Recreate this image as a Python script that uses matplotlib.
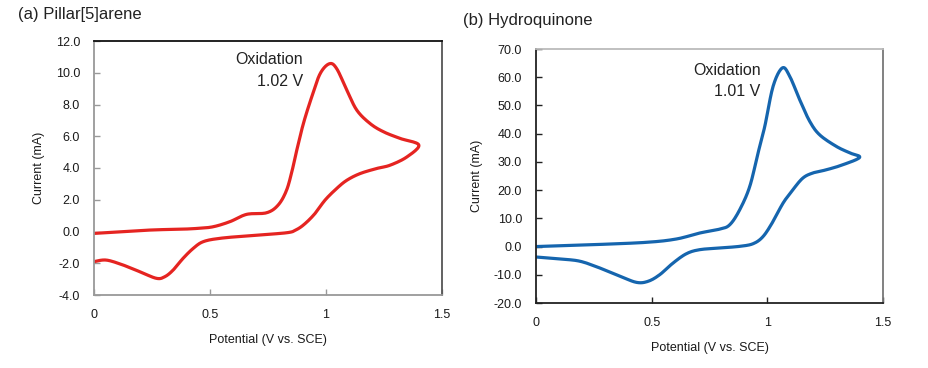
import matplotlib
matplotlib.use("Agg")
import matplotlib.pyplot as plt
import numpy as np

plt.rcParams['font.family'] = ['Liberation Sans', 'DejaVu Sans']

# (a) Pillar[5]arene CV: potential (V vs SCE), current (mA)
pa_potential = [0.0, 0.24, 0.371, 0.45, 0.514, 0.586, 0.658, 0.744, 0.794, 0.83, 0.855, 0.874,
                0.9025, 0.9385, 0.975, 1.015, 1.046, 1.09, 1.133, 1.19, 1.248, 1.32, 1.40,
                1.349, 1.277, 1.219, 1.147, 1.09, 1.046, 0.996, 0.953, 0.91, 0.873, 0.83,
                0.672, 0.543, 0.471, 0.428, 0.384, 0.341, 0.305, 0.269, 0.197, 0.125, 0.053, 0.0]
pa_current = [-0.12, 0.09, 0.14, 0.2, 0.30, 0.62, 1.08, 1.18, 1.67, 2.6, 3.9, 5.12,
              6.8, 8.48, 9.95, 10.57, 10.26, 8.9, 7.64, 6.8, 6.28, 5.86, 5.45,
              4.70, 4.18, 3.97, 3.65, 3.23, 2.71, 1.98, 1.14, 0.5, 0.12, -0.08,
              -0.26, -0.43, -0.64, -1.06, -1.69, -2.43, -2.85, -2.95, -2.53, -2.11, -1.80, -1.90]

# (b) Hydroquinone CV
hq_potential = [0.0, 0.248, 0.478, 0.607, 0.708, 0.795, 0.838, 0.881, 0.924, 0.96, 0.989, 1.025,
                1.065, 1.097, 1.14, 1.183, 1.226, 1.298, 1.356, 1.399,
                1.327, 1.255, 1.198, 1.154, 1.111, 1.068, 1.025, 0.982, 0.939, 0.881, 0.795,
                0.708, 0.651, 0.593, 0.535, 0.485, 0.435, 0.363, 0.276, 0.19, 0.104, 0.0]
hq_current = [0.0, 0.67, 1.5, 2.68, 4.8, 6.2, 7.76, 13.1, 21.3, 33.2, 42.6, 56.8,
              63.3, 60.3, 52.0, 44.4, 39.6, 35.5, 33.2, 31.6,
              29.0, 27.2, 26.1, 24.3, 20.2, 15.4, 8.94, 3.6, 1.03, 0.08, -0.51,
              -1.1, -2.5, -5.8, -9.96, -12.3, -12.7, -10.5, -7.6, -5.2, -4.4, -3.7]

pa_yticks = [-4.0, -2.0, 0.0, 2.0, 4.0, 6.0, 8.0, 10.0, 12.0]
hq_yticks = [-20.0, -10.0, 0.0, 10.0, 20.0, 30.0, 40.0, 50.0, 60.0, 70.0]
xticks = [0, 0.5, 1, 1.5]
xticklabels = ['0', '0.5', '1', '1.5']

fig = plt.figure(figsize=(9.29, 3.68), dpi=100)
ax1 = fig.add_axes([94/929, 1-295/368, 348/929, 254/368])
ax2 = fig.add_axes([536/929, 1-303/368, 347/929, 254/368])


def smooth(x, y, n=12):
    x = np.asarray(x); y = np.asarray(y)
    pts = np.column_stack([x, y])
    # Catmull-Rom spline through points
    P = np.vstack([pts[0], pts, pts[-1]])
    out = []
    for i in range(1, len(P) - 2):
        p0, p1, p2, p3 = P[i-1], P[i], P[i+1], P[i+2]
        for t in np.linspace(0, 1, n, endpoint=False):
            t2, t3 = t*t, t*t*t
            out.append(0.5*((2*p1) + (-p0+p2)*t + (2*p0-5*p1+4*p2-p3)*t2 + (-p0+3*p1-3*p2+p3)*t3))
    out.append(pts[-1])
    out = np.array(out)
    return out[:, 0], out[:, 1]


def style(ax, yticks, ylim, dark_left):
    ax.set_xlim(0, 1.5)
    ax.set_ylim(*ylim)
    ax.set_xticks(xticks)
    ax.set_xticklabels(xticklabels)
    ax.set_yticks(yticks)
    ax.set_yticklabels([f"{v:.1f}" for v in yticks])
    ax.tick_params(direction='in', length=4, width=1, labelsize=9, labelcolor='#1a1a1a')
    ax.tick_params(axis='x', pad=10)
    ax.tick_params(axis='y', pad=10)
    for s in ax.spines.values():
        s.set_linewidth(1.3)
    if dark_left:
        ax.spines['left'].set_color('#222222')
        ax.spines['bottom'].set_color('#222222')
        ax.spines['top'].set_color('#bbbbbb')
        ax.spines['right'].set_color('#777777')
        ax.tick_params(color='#222222')
    else:
        ax.spines['left'].set_color('#999999')
        ax.spines['bottom'].set_color('#999999')
        ax.spines['top'].set_color('#111111')
        ax.spines['right'].set_color('#555555')
        ax.tick_params(color='#999999')
    ax.set_xlabel('Potential (V vs. SCE)', fontsize=9, color='#1a1a1a', labelpad=9.5)
    ax.set_ylabel('Current (mA)', fontsize=9, color='#1a1a1a', labelpad=7.5)


x, y = smooth(pa_potential, pa_current)
ax1.plot(x, y, color='#e52421', lw=2.3, solid_capstyle='round', solid_joinstyle='round')
style(ax1, pa_yticks, (-4, 12), dark_left=False)
ax1.text(0.90, 10.85, 'Oxidation', ha='right', va='center', fontsize=11.5, color='#222222')
ax1.text(0.90, 9.48, '1.02 V', ha='right', va='center', fontsize=11.5, color='#222222')

x, y = smooth(hq_potential, hq_current)
ax2.plot(x, y, color='#1565ae', lw=2.3, solid_capstyle='round', solid_joinstyle='round')
style(ax2, hq_yticks, (-20, 70), dark_left=True)
ax2.text(0.97, 62.3, 'Oxidation', ha='right', va='center', fontsize=11.5, color='#222222')
ax2.text(0.97, 54.8, '1.01 V', ha='right', va='center', fontsize=11.5, color='#222222')

fig.text(18/929, 1-14/368, '(a) Pillar[5]arene', ha='left', va='center', fontsize=12, color='#222222')
fig.text(463/929, 1-21/368, '(b) Hydroquinone', ha='left', va='center', fontsize=12, color='#222222')

fig.savefig('out.png', dpi=100)
